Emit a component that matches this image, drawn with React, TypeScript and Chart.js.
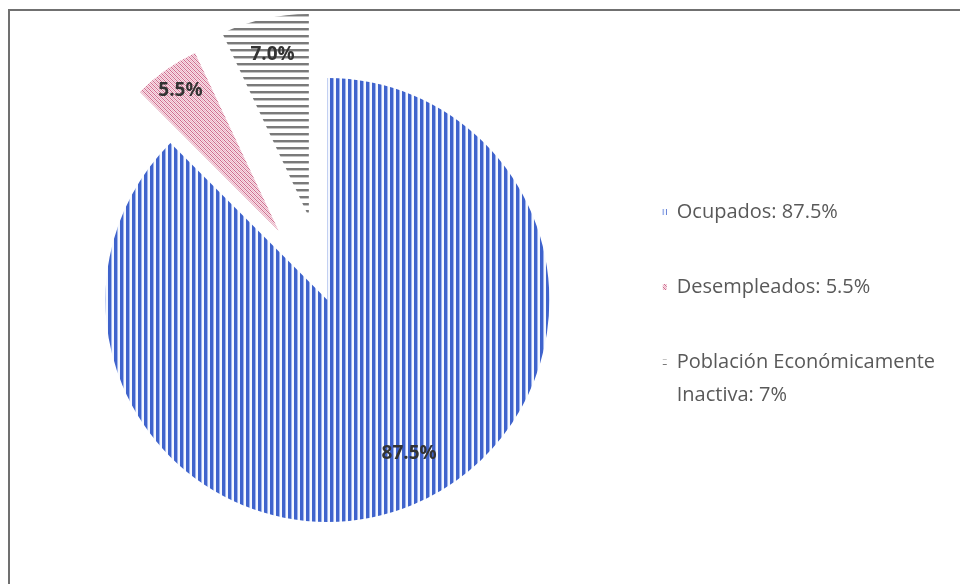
import React, { useEffect, useRef } from 'react';
import { Chart, registerables } from 'chart.js';

Chart.register(...registerables);

// ---- data ----
const categoryLines: string[][] = [
  ['Ocupados'],
  ['Desempleados'],
  ['Población Económicamente', 'Inactiva'],
];
const values: number[] = [87.5, 5.5, 7.0];
const sliceLabels: string[] = ['87.5%', '5.5%', '7.0%'];
const legendValues: string[] = ['87.5%', '5.5%', '7%'];

// ---- style ----
const SLICE_EXPLODE = [0, 85, 85];
const SLICE_RADIUS_SCALE = [1, 0.883, 0.915];
const LABEL_RADIUS = [0.784, 0.87, 0.82];
const LABEL_ANGLE_NUDGE_DEG = [-5.5, 0, 0];
const PIE_RADIUS = 222;

function makePattern(kind: number): CanvasPattern | string {
  const c = document.createElement('canvas');
  const g = c.getContext('2d');
  if (!g) return '#888';
  if (kind === 0) {
    c.width = 6; c.height = 6;
    g.fillStyle = '#f5f8fe'; g.fillRect(0, 0, 6, 6);
    g.fillStyle = '#3f63cc'; g.fillRect(0, 0, 3, 6);
    g.fillStyle = '#9fb4ec'; g.fillRect(3, 0, 1, 6);
  } else if (kind === 1) {
    c.width = 4; c.height = 4;
    g.fillStyle = '#f7e0e8'; g.fillRect(0, 0, 4, 4);
    for (let i = 0; i < 4; i++) {
      g.fillStyle = '#cf6b8d'; g.fillRect(i, i, 1, 1);
      g.fillStyle = '#eab2c4'; g.fillRect((i + 2) % 4, i, 1, 1);
    }
  } else {
    c.width = 7; c.height = 7;
    g.fillStyle = '#ffffff'; g.fillRect(0, 0, 7, 7);
    g.fillStyle = '#7a7a7a'; g.fillRect(0, 0, 7, 2);
    g.fillStyle = '#c4c4c4'; g.fillRect(0, 2, 7, 1);
  }
  return g.createPattern(c, 'repeat') || '#888';
}

// Explodes the small slices outward along their mid-angle and sets their radius.
const explodePlugin = {
  id: 'explodeSlices',
  afterDatasetsUpdate(chart: any) {
    const meta = chart.getDatasetMeta(0);
    meta.data.forEach((el: any, i: number) => {
      const mid = (el.startAngle + el.endAngle) / 2;
      el.x = el.x + Math.cos(mid) * SLICE_EXPLODE[i];
      el.y = el.y + Math.sin(mid) * SLICE_EXPLODE[i];
      el.outerRadius = el.outerRadius * SLICE_RADIUS_SCALE[i];
    });
  },
};

const sliceLabelPlugin = {
  id: 'sliceLabels',
  afterDatasetsDraw(chart: any) {
    const ctx = chart.ctx;
    const meta = chart.getDatasetMeta(0);
    ctx.save();
    ctx.font = 'bold 19px "Open Sans"';
    ctx.fillStyle = '#333333';
    ctx.textAlign = 'center';
    ctx.textBaseline = 'middle';
    meta.data.forEach((el: any, i: number) => {
      const { x, y, startAngle, endAngle, outerRadius } = el;
      const mid = (startAngle + endAngle) / 2 + (LABEL_ANGLE_NUDGE_DEG[i] * Math.PI) / 180;
      const d = LABEL_RADIUS[i] * outerRadius;
      ctx.fillText(sliceLabels[i], x + Math.cos(mid) * d, y + Math.sin(mid) * d);
    });
    ctx.restore();
  },
};

export default function App() {
  const ref = useRef<HTMLCanvasElement | null>(null);
  useEffect(() => {
    if (!ref.current) return;
    const labels: (string | string[])[] = categoryLines.map((lines, i) => {
      const out = lines.slice();
      out[out.length - 1] = out[out.length - 1] + ': ' + legendValues[i];
      return out.length === 1 ? out[0] : out;
    });
    const chart = new Chart(ref.current, {
      type: 'pie',
      data: {
        labels: labels as any,
        datasets: [
          {
            data: values,
            backgroundColor: [makePattern(0), makePattern(1), makePattern(2)] as any,
            borderWidth: 0,
            hoverOffset: 0,
            radius: PIE_RADIUS,
            clip: false,
          } as any,
        ],
      },
      options: {
        animation: false,
        responsive: false,
        devicePixelRatio: 1,
        layout: { padding: { top: 127, bottom: 111, right: 15, left: 47 } },
        plugins: {
          tooltip: { enabled: false },
          legend: {
            position: 'right',
            align: 'end',
            labels: {
              boxWidth: 4,
              boxHeight: 6,
              padding: 55,
              color: '#595959',
              font: { family: '"Open Sans"', size: 20, lineHeight: 1.65 },
            },
          },
        },
      },
      plugins: [explodePlugin, sliceLabelPlugin],
    });
    return () => chart.destroy();
  }, []);
  return (
    <div style={{ position: 'fixed', left: 0, top: 0, width: 960, height: 584, background: '#fff' }}>
      <canvas ref={ref} width={960} height={584} style={{ position: 'absolute', left: 0, top: 0, width: 960, height: 584 }} />
      <div
        style={{
          position: 'absolute',
          left: 8,
          top: 9,
          width: 952,
          height: 575,
          borderTop: '2px solid #707070',
          borderLeft: '2px solid #707070',
          boxSizing: 'border-box',
          pointerEvents: 'none',
        }}
      />
    </div>
  );
}
